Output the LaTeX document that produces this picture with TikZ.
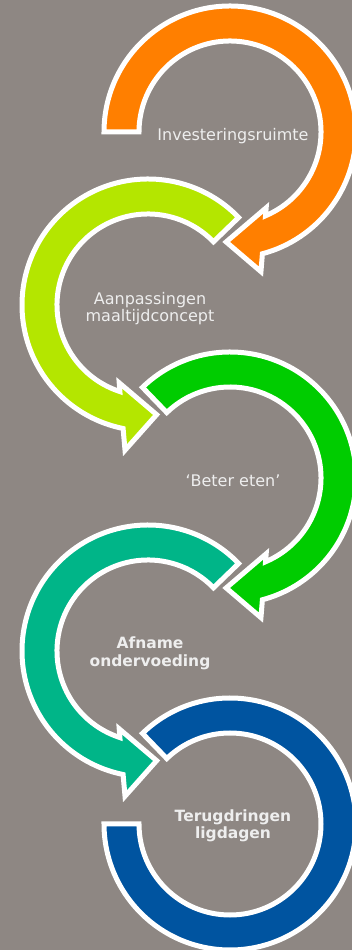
\documentclass[tikz,border=0pt]{standalone}
\usepackage{fontspec}
\setmainfont{DejaVu Sans}
\usetikzlibrary{positioning}

\definecolor{achtergrond}{RGB}{142,135,131}
\definecolor{oranje}{RGB}{255,127,0}
\definecolor{limoen}{RGB}{180,230,0}
\definecolor{groen}{RGB}{0,204,0}
\definecolor{zeegroen}{RGB}{0,181,136}
\definecolor{blauw}{RGB}{0,84,160}
\definecolor{tekst}{RGB}{238,238,238}

\begin{document}
\begin{tikzpicture}[x=1pt, y=1pt, node distance=172.5pt,
		ring/.style={draw=white, line width=5pt, line join=miter},
		stap/.style={text=tekst, align=center, font=\fontsize{16}{17.5}\selectfont},
		stapvet/.style={stap, font=\fontsize{15.5}{17.5}\selectfont\bfseries}]
			\clip (0,0) rectangle (352,950);
			\fill[achtergrond] (0,0) rectangle (352,950);
			
			\filldraw[ring, fill=oranje, shift={(230,818)}] (180:126) arc (180:-75.1:126) -- (-77.5:143) -- (-92:110) -- (-64.5:84) -- (-67:91) arc (-67:180:91) -- cycle;
			\filldraw[ring, fill=limoen, shift={(148,645)}] (44:126) arc (44:258.6:126) -- (261:147) -- (274.5:110) -- (249.7:83) -- (252:91) arc (252:44:91) -- cycle;
			\filldraw[ring, fill=groen, shift={(230,472)}] (134:126) arc (134:-75.1:126) -- (-77.5:143) -- (-92:110) -- (-64.5:84) -- (-67:91) arc (-67:134:91) -- cycle;
			\filldraw[ring, fill=zeegroen, shift={(148,299)}] (44:126) arc (44:258.6:126) -- (261:147) -- (274.5:110) -- (249.7:83) -- (252:91) arc (252:44:91) -- cycle;
			\filldraw[ring, fill=blauw, shift={(230,126)}] (134:126) arc (134:-180:126) -- (-180:91) arc (-180:134:91) -- cycle;
			
			\node (ruimte) [stap] at (233,814) {Investeringsruimte};
			\node (maaltijd) [stap, below of=ruimte, xshift=-83pt] {Aanpassingen\\maaltijdconcept};
			\node (eten) [stap, below of=maaltijd, xshift=83pt] {‘Beter eten’};
			\node (afname) [stapvet, below of=eten, xshift=-83pt] {Afname\\ondervoeding};
			\node (ligdagen) [stapvet, below of=afname, xshift=83pt] {Terugdringen\\ligdagen};
		\end{tikzpicture}
\end{document}
